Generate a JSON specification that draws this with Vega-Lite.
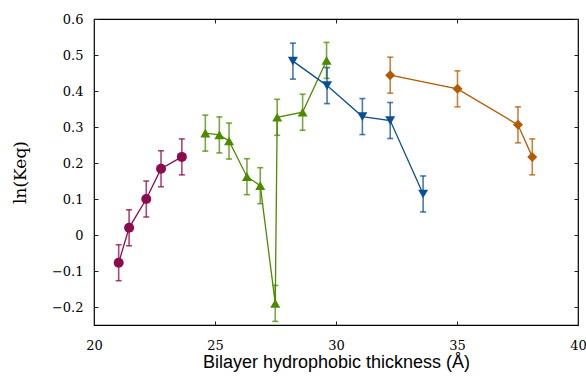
{
  "$schema": "https://vega.github.io/schema/vega-lite/v6.json",
  "width": 484,
  "height": 306,
  "autosize": "none",
  "padding": {"left": 94, "top": 19, "right": 8, "bottom": 56},
  "background": "white",
  "config": {
    "view": {"stroke": "black", "strokeWidth": 1.2},
    "axis": {
      "grid": false,
      "domain": false,
      "labelFlush": false,
      "labelOverlap": false,
      "tickColor": "#222222",
      "tickWidth": 1,
      "tickSize": -4,
      "labelFont": "DejaVu Serif",
      "labelFontSize": 13,
      "labelColor": "black"
    }
  },
  "data": {
    "values": [
      {"s": "A", "x": 21.02, "y": -0.077, "lo": -0.127, "hi": -0.027},
      {"s": "A", "x": 21.45, "y": 0.02, "lo": -0.03, "hi": 0.07},
      {"s": "A", "x": 22.16, "y": 0.1, "lo": 0.05, "hi": 0.15},
      {"s": "A", "x": 22.77, "y": 0.184, "lo": 0.134, "hi": 0.234},
      {"s": "A", "x": 23.63, "y": 0.217, "lo": 0.167, "hi": 0.267},
      {"s": "B", "x": 24.6, "y": 0.283, "lo": 0.233, "hi": 0.333},
      {"s": "B", "x": 25.18, "y": 0.278, "lo": 0.228, "hi": 0.328},
      {"s": "B", "x": 25.58, "y": 0.261, "lo": 0.211, "hi": 0.311},
      {"s": "B", "x": 26.32, "y": 0.162, "lo": 0.112, "hi": 0.212},
      {"s": "B", "x": 26.87, "y": 0.137, "lo": 0.087, "hi": 0.187},
      {"s": "B", "x": 27.49, "y": -0.19, "lo": -0.24, "hi": -0.14},
      {"s": "B", "x": 27.57, "y": 0.327, "lo": 0.277, "hi": 0.377},
      {"s": "B", "x": 28.62, "y": 0.341, "lo": 0.291, "hi": 0.391},
      {"s": "B", "x": 29.61, "y": 0.485, "lo": 0.435, "hi": 0.535},
      {"s": "C", "x": 28.22, "y": 0.483, "lo": 0.433, "hi": 0.533},
      {"s": "C", "x": 29.63, "y": 0.415, "lo": 0.365, "hi": 0.465},
      {"s": "C", "x": 31.09, "y": 0.329, "lo": 0.279, "hi": 0.379},
      {"s": "C", "x": 32.24, "y": 0.318, "lo": 0.268, "hi": 0.368},
      {"s": "C", "x": 33.6, "y": 0.114, "lo": 0.064, "hi": 0.164},
      {"s": "D", "x": 32.24, "y": 0.444, "lo": 0.394, "hi": 0.494},
      {"s": "D", "x": 35.02, "y": 0.406, "lo": 0.356, "hi": 0.456},
      {"s": "D", "x": 37.52, "y": 0.306, "lo": 0.256, "hi": 0.356},
      {"s": "D", "x": 38.11, "y": 0.217, "lo": 0.167, "hi": 0.267}
    ]
  },
  "encoding": {
    "x": {
      "field": "x", "type": "quantitative",
      "scale": {"domain": [20, 40], "nice": false, "zero": false},
      "axis": null
    },
    "y": {
      "field": "y", "type": "quantitative",
      "scale": {"domain": [-0.25, 0.6], "nice": false, "zero": false},
      "axis": null
    },
    "color": {
      "field": "s", "type": "nominal", "legend": null,
      "scale": {"domain": ["A", "B", "C", "D"], "range": ["#8c0a4e", "#4c8a00", "#0a4f96", "#b35a00"]}
    }
  },
  "layer": [
    {
      "mark": {"type": "line", "strokeWidth": 1.3},
      "encoding": {
        "order": {"field": "x", "type": "quantitative"},
        "x": {
          "field": "x", "type": "quantitative",
          "axis": {
            "values": [20, 25, 30, 35, 40],
            "labelPadding": 18,
            "title": "Bilayer hydrophobic thickness (Å)",
            "titleFont": "Liberation Sans",
            "titleFontSize": 18,
            "titleFontWeight": "normal",
            "titlePadding": 1
          }
        },
        "y": {
          "field": "y", "type": "quantitative",
          "axis": {
            "values": [-0.2, -0.1, 0, 0.1, 0.2, 0.3, 0.4, 0.5, 0.6],
            "format": ".1~f",
            "labelPadding": 15,
            "title": "ln(Keq)",
            "titleFont": "DejaVu Serif",
            "titleFontSize": 17,
            "titleFontWeight": "normal",
            "titlePadding": 22
          }
        }
      }
    },
    {
      "mark": {"type": "errorbar", "ticks": {"size": 6}, "opacity": 0.75, "thickness": 1.6},
      "encoding": {
        "y": {"field": "lo", "type": "quantitative", "axis": null},
        "y2": {"field": "hi"}
      }
    },
    {
      "mark": {"type": "point", "filled": true, "opacity": 1},
      "encoding": {
        "shape": {
          "field": "s", "type": "nominal", "legend": null,
          "scale": {"domain": ["A", "B", "C", "D"], "range": ["circle", "triangle-up", "triangle-down", "diamond"]}
        },
        "size": {"value": 100}
      }
    },
    {
      "mark": {"type": "point", "opacity": 0},
      "encoding": {
        "x": {"field": "x", "type": "quantitative", "axis": {"orient": "top", "labels": false, "labelOpacity": 0, "title": null, "values": [20, 25, 30, 35, 40]}},
        "y": {"field": "y", "type": "quantitative", "axis": {"orient": "right", "labels": false, "labelOpacity": 0, "title": null, "values": [-0.2, -0.1, 0, 0.1, 0.2, 0.3, 0.4, 0.5, 0.6]}}
      }
    }
  ],
  "resolve": {"axis": {"x": "independent", "y": "independent"}}
}
